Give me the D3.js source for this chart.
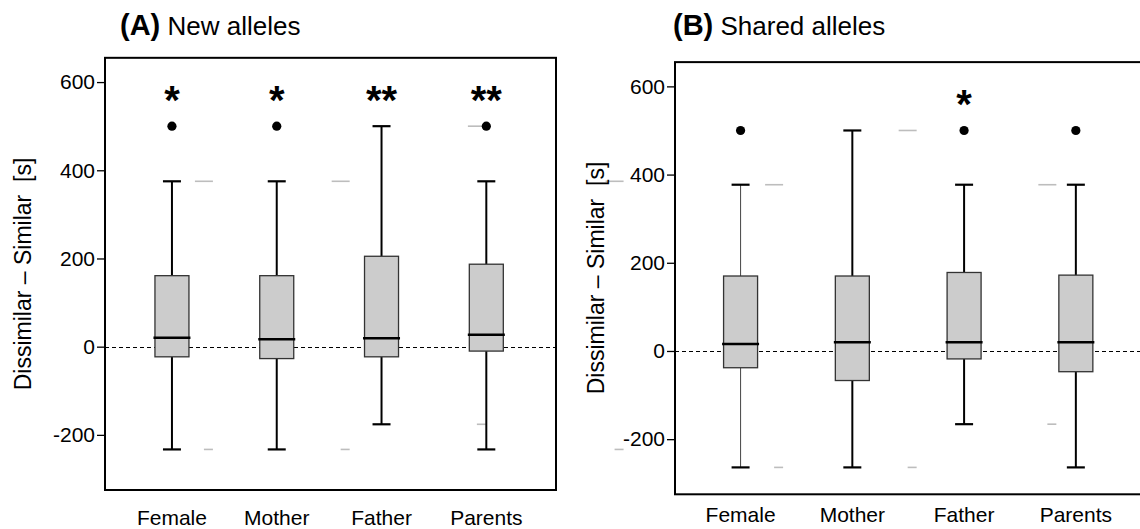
<!DOCTYPE html>
<html>
<head>
<meta charset="utf-8">
<script src="https://cdn.jsdelivr.net/npm/d3@7"></script>
<style>
  body { margin: 0; background: #fff; }
  text { font-family: "Liberation Sans", Arial, Helvetica, sans-serif; }
</style>
</head>
<body>
<svg id="chart" width="1140" height="529"></svg>
<script>
// categories on the x axis
const categories = ["Female", "Mother", "Father", "Parents"];
const yTicks = [-200, 0, 200, 400, 600];

// (A) New alleles : box stats
const newLow = [-233, -233, -176, -233];
const newQ1 = [-23, -27, -23, -10];
const newMedian = [20, 17, 19, 27];
const newQ3 = [161, 161, 205, 187];
const newHigh = [375, 375, 500, 375];
const newOutliers = [[500], [500], [], [500]];
const newStars = ["*", "*", "**", "**"];
// faint grey copies of the caps (misprint in the original), shift in steps
const newGhostShift = [0.305, 0.61, 0.91, 1.224];

// (B) Shared alleles : box stats
const sharedLow = [-264, -264, -166, -264];
const sharedQ1 = [-38, -67, -18, -47];
const sharedMedian = [16, 20, 20, 20];
const sharedQ3 = [170, 170, 178, 172];
const sharedHigh = [377, 500, 377, 377];
const sharedOutliers = [[500], [], [500], [500]];
const sharedStars = ["", "", "*", ""];
const sharedGhostShift = [0.30, 0.495, 0.745, null];

const starLevel = 578;

const svg = d3.select("#chart");
svg.append("rect").attr("width", 1140).attr("height", 529).attr("fill", "#fff");

function rows(low, q1, med, q3, high, outl, stars, ghost) {
    return categories.map((c, i) => ({
        cat: c, low: low[i], q1: q1[i], med: med[i], q3: q3[i], high: high[i],
        outliers: outl[i], star: stars[i], ghost: ghost[i]
    }));
}

const panels = [
    {
        letter: "(A)", name: " New alleles",
        data: rows(newLow, newQ1, newMedian, newQ3, newHigh, newOutliers, newStars, newGhostShift),
        left: 105, right: 556, bottom: 490, align: 0.49,
        titleX: 120, labelY: 525, yLabelX: 31, yLabelY: 274, thin: null
    },
    {
        letter: "(B)", name: " Shared alleles",
        data: rows(sharedLow, sharedQ1, sharedMedian, sharedQ3, sharedHigh, sharedOutliers, sharedStars, sharedGhostShift),
        left: 675, right: 1156, bottom: 494.3, align: 0.45,
        titleX: 673, labelY: 522, yLabelX: 604, yLabelY: 278, thin: "Female"
    }
];

const boxW = 34, capW = 18;

panels.forEach(p => {
    const top = p.bottom - 980 * 0.441;
    const y = d3.scaleLinear().domain([-325, 655]).range([p.bottom, top]);
    const x = d3.scalePoint().domain(categories).range([p.left, p.right])
        .padding(0.652).align(p.align);
    const step = x.step();
    const g = svg.append("g");

    // title
    const t = g.append("text").attr("x", p.titleX).attr("y", 35).attr("fill", "#000");
    t.append("tspan").attr("font-weight", "bold").attr("font-size", 29).text(p.letter);
    t.append("tspan").attr("font-size", 26).text(p.name);

    // y label
    g.append("text")
        .attr("transform", `translate(${p.yLabelX},${p.yLabelY}) rotate(-90)`)
        .attr("text-anchor", "middle").attr("font-size", 23)
        .text("Dissimilar \u2013 Similar \u00a0[s]");

    // zero line
    g.append("line")
        .attr("x1", p.left).attr("x2", p.right)
        .attr("y1", Math.round(y(0)) + 0.5).attr("y2", Math.round(y(0)) + 0.5)
        .attr("stroke", "#000").attr("stroke-width", 1.2)
        .attr("stroke-dasharray", "4,3");

    // ghost caps
    p.data.filter(d => d.ghost != null).forEach(d => {
        const cx = x(d.cat) + d.ghost * step;
        g.append("line").attr("x1", cx - capW / 2).attr("x2", cx + capW / 2)
            .attr("y1", y(d.high)).attr("y2", y(d.high))
            .attr("stroke", "#bdbdbd").attr("stroke-width", 1.6);
        g.append("line").attr("x1", cx).attr("x2", cx + capW / 2)
            .attr("y1", y(d.low)).attr("y2", y(d.low))
            .attr("stroke", "#bdbdbd").attr("stroke-width", 1.6);
    });

    const b = g.selectAll("g.box").data(p.data).enter().append("g")
        .attr("class", "box")
        .attr("transform", d => `translate(${x(d.cat)},0)`);

    // whiskers
    b.append("line").attr("y1", d => y(d.q3)).attr("y2", d => y(d.high))
        .attr("stroke", d => d.cat === p.thin ? "#444" : "#000")
        .attr("stroke-width", d => d.cat === p.thin ? 1 : 2);
    b.append("line").attr("y1", d => y(d.q1)).attr("y2", d => y(d.low))
        .attr("stroke", d => d.cat === p.thin ? "#444" : "#000")
        .attr("stroke-width", d => d.cat === p.thin ? 1 : 2);
    // caps
    b.append("line").attr("x1", -capW / 2).attr("x2", capW / 2)
        .attr("y1", d => y(d.high)).attr("y2", d => y(d.high))
        .attr("stroke", "#000").attr("stroke-width", 2.2);
    b.append("line").attr("x1", -capW / 2).attr("x2", capW / 2)
        .attr("y1", d => y(d.low)).attr("y2", d => y(d.low))
        .attr("stroke", "#000").attr("stroke-width", 2.2);

    // box
    b.append("rect").attr("x", -boxW / 2).attr("width", boxW)
        .attr("y", d => y(d.q3)).attr("height", d => y(d.q1) - y(d.q3))
        .attr("fill", "#cccccc").attr("stroke", "#333").attr("stroke-width", 1.3);
    // median
    b.append("line").attr("x1", -boxW / 2 - 1.5).attr("x2", boxW / 2 + 1.5)
        .attr("y1", d => y(d.med)).attr("y2", d => y(d.med))
        .attr("stroke", "#000").attr("stroke-width", 2.5);

    // outliers
    b.selectAll("circle").data(d => d.outliers).enter().append("circle")
        .attr("cy", v => y(v)).attr("r", 4.6).attr("fill", "#000");

    // stars
    b.append("text").attr("y", y(starLevel)).attr("dy", "0.56em")
        .attr("text-anchor", "middle").attr("font-size", 40).attr("font-weight", "bold")
        .text(d => d.star);

    // category labels
    b.append("text").attr("y", p.labelY).attr("text-anchor", "middle")
        .attr("font-size", 21).text(d => d.cat);

    // y axis
    const ax = g.append("g").attr("transform", `translate(${p.left},0)`)
        .call(d3.axisLeft(y).tickValues(yTicks).tickSize(8).tickPadding(2)
            .tickFormat(d => String(d)));
    ax.select(".domain").remove();
    ax.selectAll(".tick line").attr("stroke", "#000").attr("stroke-width", 1.3);
    ax.selectAll(".tick text").attr("font-size", 21).attr("fill", "#000")
        .attr("font-family", "'Liberation Sans', Arial, sans-serif");

    // frame
    g.append("rect").attr("x", p.left).attr("y", top)
        .attr("width", p.right - p.left).attr("height", p.bottom - top)
        .attr("fill", "none").attr("stroke", "#000").attr("stroke-width", 2);
});
</script>
</body>
</html>
